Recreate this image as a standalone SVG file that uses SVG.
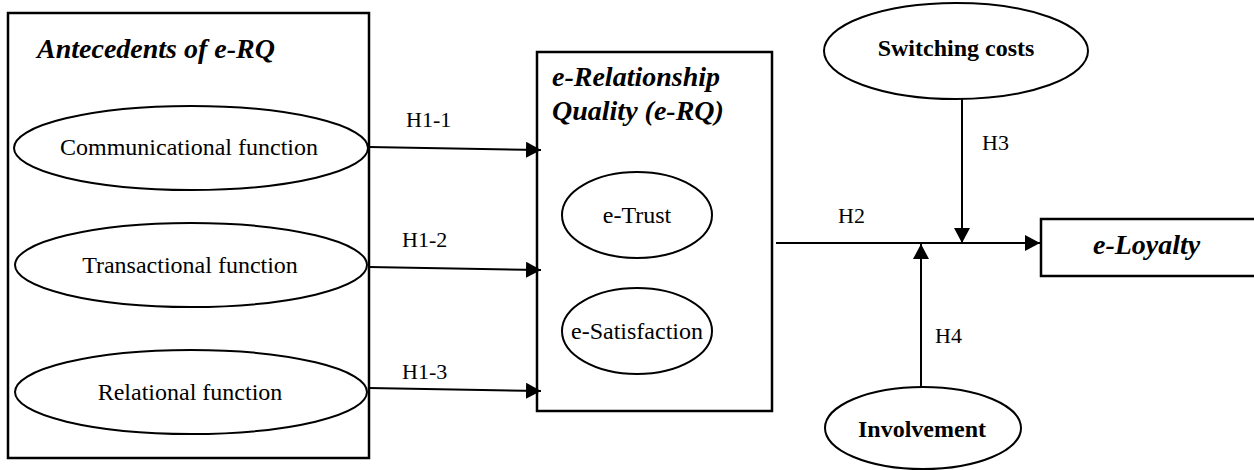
<svg xmlns="http://www.w3.org/2000/svg" width="1254" height="470" viewBox="0 0 1254 470">
<style>
.box{fill:#fff;stroke:#000;stroke-width:2.5}
.ell{fill:#fff;stroke:#000;stroke-width:2}
.t{font-family:"Liberation Serif","Times New Roman",serif;font-size:24px;fill:#000;text-anchor:middle}
.b{font-weight:bold}
.ti{font-family:"Liberation Serif","Times New Roman",serif;font-size:28px;font-weight:bold;font-style:italic;fill:#000}
.lab{font-family:"Liberation Serif","Times New Roman",serif;font-size:22px;fill:#000}
.c{stroke:#000;stroke-width:2;fill:none;marker-end:url(#ah)}
</style>
<defs>
<marker id="ah" markerUnits="userSpaceOnUse" markerWidth="16" markerHeight="16" refX="15" refY="8" orient="auto">
<path d="M0,0 L15,8 L0,16 Z" fill="#000"/>
</marker>
</defs>
<g id="antecedents">
<rect class="box" x="8" y="13" width="361" height="445"/>
<text class="ti" x="37" y="58">Antecedents of e-RQ</text>
</g>
<g id="communicational">
<ellipse class="ell" cx="191" cy="148" rx="177" ry="42"/>
<text class="t" x="189" y="155">Communicational function</text>
</g>
<g id="transactional">
<ellipse class="ell" cx="191" cy="265" rx="176" ry="42"/>
<text class="t" x="190" y="273">Transactional function</text>
</g>
<g id="relational">
<ellipse class="ell" cx="191" cy="392" rx="176" ry="42"/>
<text class="t" x="190" y="400">Relational function</text>
</g>
<g id="erq">
<rect class="box" x="537" y="52" width="235" height="359"/>
<text class="ti" x="552" y="86">e-Relationship</text>
<text class="ti" x="552" y="120">Quality (e-RQ)</text>
</g>
<g id="etrust">
<ellipse class="ell" cx="637" cy="215" rx="75" ry="43"/>
<text class="t" x="637" y="223">e-Trust</text>
</g>
<g id="esatisfaction">
<ellipse class="ell" cx="637" cy="331" rx="75" ry="43"/>
<text class="t" x="637" y="339">e-Satisfaction</text>
</g>
<g id="switching">
<ellipse class="ell" cx="956" cy="51" rx="132" ry="48"/>
<text class="t b" x="956" y="56">Switching costs</text>
</g>
<g id="involvement">
<ellipse class="ell" cx="923" cy="428" rx="98" ry="41"/>
<text class="t b" x="922" y="437">Involvement</text>
</g>
<g id="eloyalty">
<rect class="box" x="1041" y="219" width="220" height="57"/>
<text class="ti" x="1093" y="254">e-Loyalty</text>
</g>
<g id="connectors">
<line class="c" x1="369" y1="147" x2="541" y2="150"/>
<line class="c" x1="369" y1="267" x2="541" y2="270"/>
<line class="c" x1="369" y1="388" x2="541" y2="391"/>
<line class="c" x1="776" y1="243" x2="1040" y2="243"/>
<line class="c" x1="962" y1="99" x2="962" y2="243"/>
<line class="c" x1="921" y1="387" x2="921" y2="244"/>
<text class="lab" x="406" y="127">H1-1</text>
<text class="lab" x="402" y="247">H1-2</text>
<text class="lab" x="402" y="379">H1-3</text>
<text class="lab" x="838" y="223">H2</text>
<text class="lab" x="982" y="150">H3</text>
<text class="lab" x="935" y="343">H4</text>
</g>
</svg>
